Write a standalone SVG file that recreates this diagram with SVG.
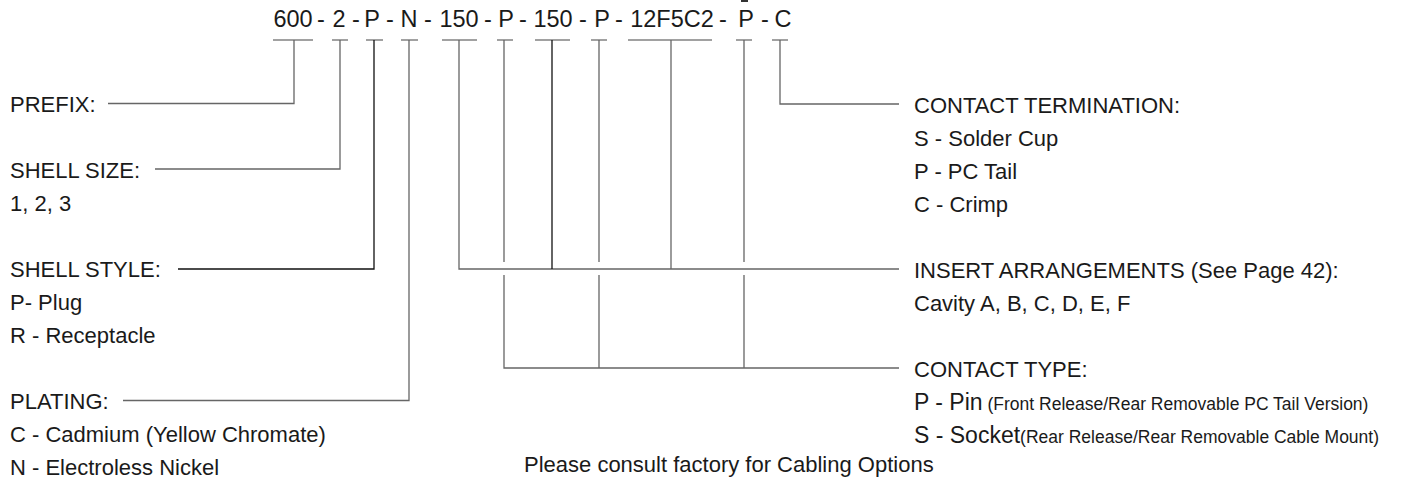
<svg xmlns="http://www.w3.org/2000/svg" width="1412" height="478" viewBox="0 0 1412 478">
<style>
text{font-family:"Liberation Sans",Arial,Helvetica,sans-serif;font-size:22px;fill:#1a1a1a}
.code text{text-anchor:middle;font-size:23.5px}
.small{font-size:17.5px}
.big{font-size:23px}
.ln{stroke:#666;stroke-width:1.3;fill:none}
.dk{stroke:#111;stroke-width:1.3;fill:none}
.tick{stroke:#444;stroke-width:1.2;fill:none}
</style>
<rect width="1412" height="478" fill="#fff"/>
<g id="code">
<line x1="741" y1="1" x2="748" y2="1" stroke="#333" stroke-width="2"/>
<g class="code">
<text x="293" y="27">600</text>
<text x="321" y="27">-</text>
<text x="339" y="27">2</text>
<text x="356" y="27">-</text>
<text x="372" y="27">P</text>
<text x="390" y="27">-</text>
<text x="409" y="27">N</text>
<text x="428" y="27">-</text>
<text x="459" y="27">150</text>
<text x="488" y="27">-</text>
<text x="506" y="27">P</text>
<text x="523" y="27">-</text>
<text x="553" y="27">150</text>
<text x="583" y="27">-</text>
<text x="602" y="27">P</text>
<text x="619" y="27">-</text>
<text x="672" y="27">12F5C2</text>
<text x="723" y="27">-</text>
<text x="746" y="27">P</text>
<text x="765" y="27">-</text>
<text x="783" y="27">C</text>
</g>
</g>
<g id="connectors">
<path class="tick" d="M273 40H313M332 40H348M366 40H383M401 40H418M442 40H477M497 40H513M535 40H570M591 40H607M628 40H712M736 40H752M772 40H788"/>
<path class="ln" d="M294 40V103.5H108"/>
<path class="ln" d="M340 40V169H155"/>
<path class="dk" d="M374 40V269H178"/>
<path class="ln" d="M409 40V400.5H123"/>
<path class="ln" d="M459 40V269H899"/>
<path class="dk" d="M552 40V269"/>
<path class="ln" d="M671 40V269"/>
<path class="ln" d="M504 40V262M599 40V262M744 40V262"/>
<path class="ln" d="M504 275V368H899M599 275V368M744 275V368"/>
<path class="ln" d="M780 40V104H899"/>
</g>
<g id="prefix"><text x="10" y="112">PREFIX:</text></g>
<g id="shell-size"><text x="10" y="178">SHELL SIZE:</text><text x="10" y="211">1, 2, 3</text></g>
<g id="shell-style"><text x="10" y="277">SHELL STYLE:</text><text x="10" y="310">P- Plug</text><text x="10" y="343">R - Receptacle</text></g>
<g id="plating"><text x="10" y="409">PLATING:</text><text x="10" y="442">C - Cadmium (Yellow Chromate)</text><text x="10" y="475">N - Electroless Nickel</text></g>
<g id="contact-termination"><text x="914" y="113">CONTACT TERMINATION:</text><text x="914" y="146">S - Solder Cup</text><text x="914" y="179">P - PC Tail</text><text x="914" y="212">C - Crimp</text></g>
<g id="insert-arrangements"><text x="914" y="278">INSERT ARRANGEMENTS (See Page 42):</text><text x="914" y="311">Cavity A, B, C, D, E, F</text></g>
<g id="contact-type"><text x="914" y="377">CONTACT TYPE:</text>
<text x="914" y="410"><tspan class="big">P - Pin</tspan><tspan class="small"> (Front Release/Rear Removable PC Tail Version)</tspan></text>
<text x="914" y="443"><tspan class="big">S - Socket</tspan><tspan class="small">(Rear Release/Rear Removable Cable Mount)</tspan></text></g>
<g id="note"><text x="524" y="472">Please consult factory for Cabling Options</text></g>
</svg>
